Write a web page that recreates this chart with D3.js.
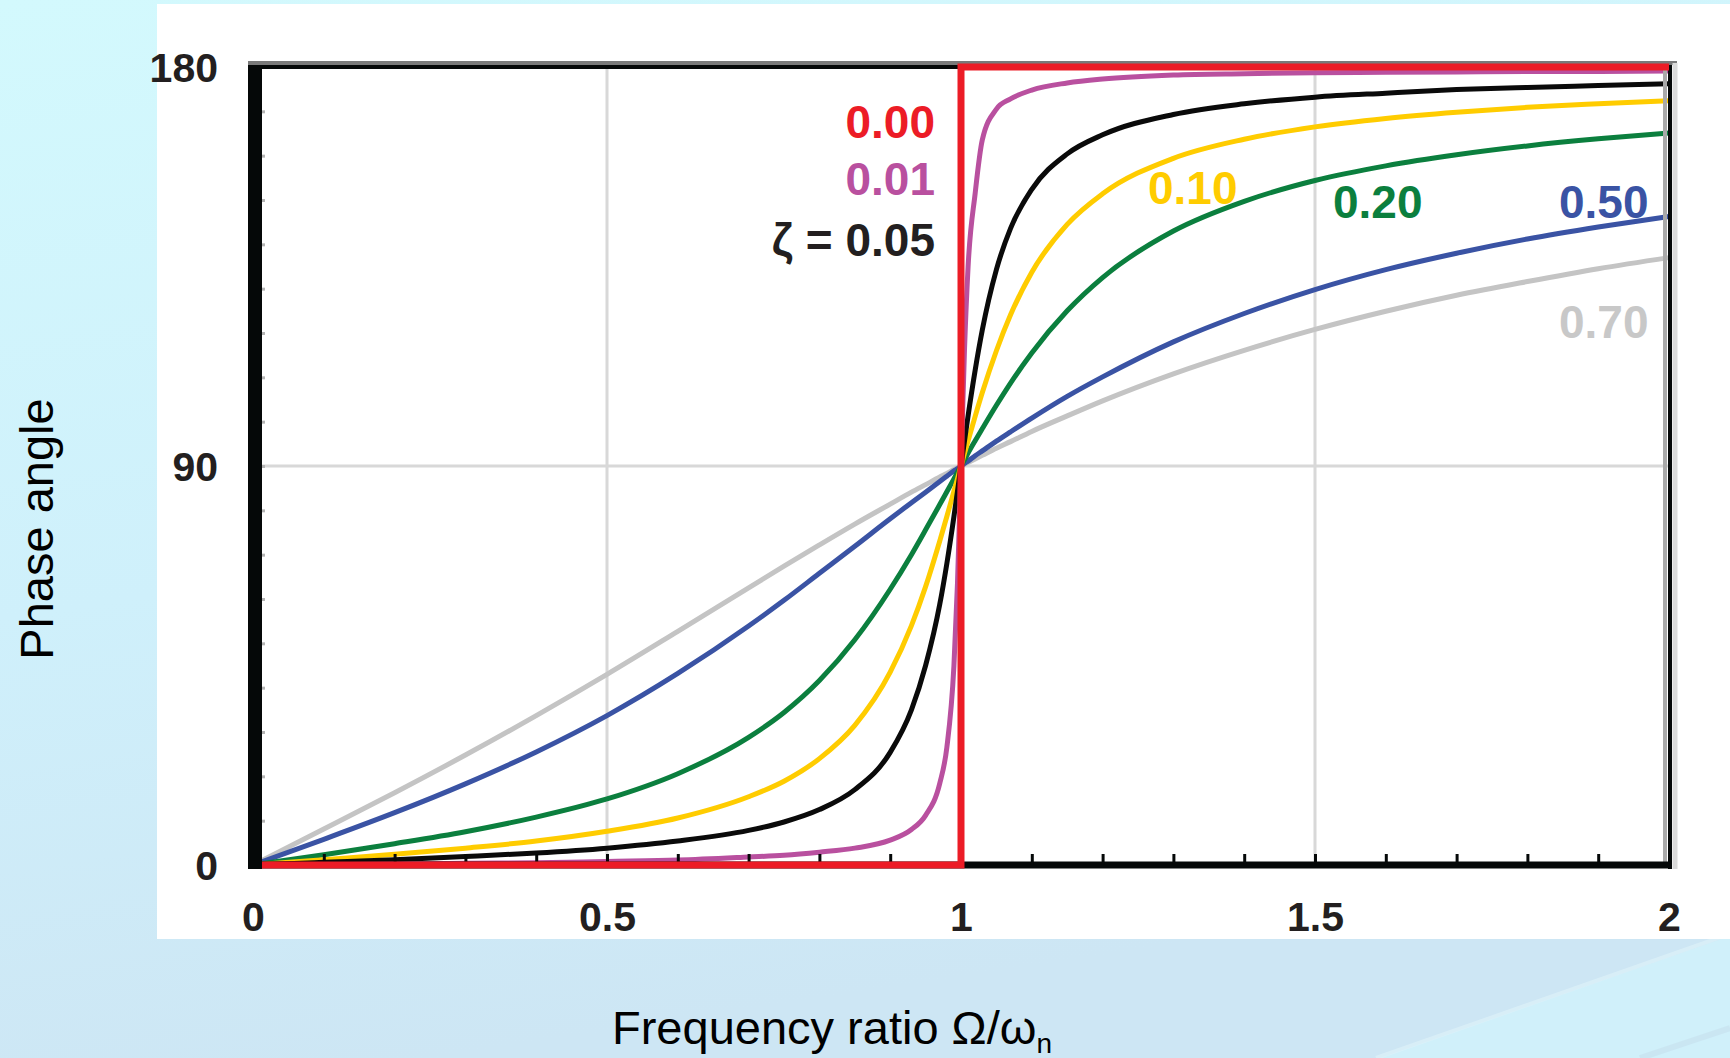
<!DOCTYPE html>
<html>
<head>
<meta charset="utf-8">
<script src="https://cdn.jsdelivr.net/npm/d3@7"></script>
<style>
  html, body { margin: 0; padding: 0; background: #d2f4fb; }
  svg { display: block; }
</style>
</head>
<body>
<svg id="chart" width="1730" height="1058"></svg>
<script>
// Frequency ratio samples shared by every damped curve
const ratio = [0, 0.1, 0.2, 0.3, 0.4, 0.5, 0.6, 0.7, 0.75, 0.8, 0.85, 0.9, 0.93, 0.95, 0.97, 0.98, 0.99, 0.995,
               1, 1.005, 1.01, 1.02, 1.03, 1.05, 1.07, 1.1, 1.15, 1.2, 1.3, 1.4, 1.5, 1.6, 1.7, 1.8, 1.9, 2];

// Phase angle (degrees) for each damping ratio
const phase001 = [0, 0.1, 0.2, 0.4, 0.5, 0.8, 1.1, 1.8, 2.2, 2.9, 3.8, 5.6, 8.0, 11.2, 18.4, 26.5, 44.9, 63.4,
                  90, 116.5, 134.9, 151.5, 163.5, 170.5, 172.8, 174.8, 176.4, 177.3, 178.2, 178.5, 178.7, 178.8, 178.9, 179.0, 179.0, 179.1];
const phase005 = [0, 0.6, 1.2, 1.9, 2.7, 3.8, 5.4, 7.8, 9.7, 12.5, 17.0, 25.4, 35.0, 45.0, 58.8, 68.0, 78.6, 84.3,
                  90, 95.7, 101.3, 111.6, 120.6, 134.3, 143.6, 152.4, 160.4, 164.7, 169.3, 171.7, 173.2, 174.1, 174.9, 175.4, 175.8, 176.2];
const phase010 = [0, 1.2, 2.4, 3.8, 5.4, 7.6, 10.6, 15.4, 18.9, 24.0, 31.5, 43.5, 54.0, 62.8, 73.1, 78.6, 84.3, 87.1,
                  90, 92.9, 95.7, 101.2, 106.5, 116.0, 124.1, 133.7, 144.5, 151.4, 159.4, 163.7, 166.5, 168.4, 169.8, 170.9, 171.7, 172.4];
const phase020 = [0, 2.3, 4.8, 7.5, 10.8, 14.9, 20.6, 28.8, 34.4, 41.6, 50.8, 62.2, 70.0, 75.6, 81.3, 84.2, 87.1, 88.6,
                  90, 91.4, 92.9, 95.7, 98.4, 103.7, 108.7, 115.5, 125.0, 132.5, 143.0, 149.7, 154.4, 157.7, 160.2, 162.2, 163.8, 165.1];
const phase050 = [0, 5.8, 11.8, 18.3, 25.5, 33.7, 43.2, 53.9, 59.7, 65.8, 71.9, 78.1, 81.7, 84.1, 86.5, 87.7, 88.9, 89.4,
                  90, 90.6, 91.1, 92.3, 93.4, 95.6, 97.7, 100.8, 105.7, 110.1, 118.0, 124.4, 129.8, 134.3, 138.0, 141.2, 143.9, 146.3];
const phase070 = [0, 8.1, 16.3, 24.8, 33.7, 43.0, 52.7, 62.5, 67.4, 72.2, 76.9, 81.4, 84.1, 85.8, 87.5, 88.3, 89.2, 89.6,
                  90, 90.4, 90.8, 91.6, 92.4, 94.0, 95.5, 97.8, 101.3, 104.7, 110.8, 116.1, 120.8, 124.9, 128.5, 131.6, 134.5, 137.0];

// Undamped response: a step at resonance
const undampedRatio = [0, 1, 1, 2];
const undampedPhase = [0, 0, 180, 180];

// Axis ticks and curve labels
const xTicks = [0, 0.5, 1, 1.5, 2];
const yTicks = [0, 90, 180];
const dampingLabels = ["0.00", "0.01", "ζ = 0.05", "0.10", "0.20", "0.50", "0.70"];

const svg = d3.select("#chart");
const W = 1730, H = 1058;
const defs = svg.append("defs");

// ---- page background ----
const bg = defs.append("linearGradient").attr("id", "bg")
  .attr("x1", 0).attr("y1", 0).attr("x2", 0.25).attr("y2", 1);
bg.append("stop").attr("offset", 0).attr("stop-color", "#d3f9fd");
bg.append("stop").attr("offset", 0.55).attr("stop-color", "#cff0fb");
bg.append("stop").attr("offset", 1).attr("stop-color", "#cde6f4");
svg.append("rect").attr("width", W).attr("height", H).attr("fill", "url(#bg)");

// soft diagonal sheen in the lower right corner
svg.append("path").attr("d", "M1380,1058 L1730,936 L1730,1058 Z").attr("fill", "#d1f3fb").attr("opacity", 0.8);
svg.append("path").attr("d", "M1376,1058 L1730,934").attr("stroke", "#e0f4fa").attr("stroke-width", 4).attr("opacity", 0.6);
svg.append("path").attr("d", "M1640,1058 L1730,1028").attr("stroke", "#c9e4f1").attr("stroke-width", 6).attr("opacity", 0.8);

// white chart panel
svg.append("rect").attr("x", 157).attr("y", 4).attr("width", W - 157).attr("height", 935).attr("fill", "#ffffff");

// ---- scales ----
const x = d3.scaleLinear().domain([0, 2]).range([253, 1669]);
const y = d3.scaleLinear().domain([0, 180]).range([865, 67]);

// ---- grid ----
const grid = svg.append("g").attr("stroke", "#d8d8d8").attr("stroke-width", 3);
[0.5, 1, 1.5].forEach(v => {
  grid.append("line").attr("x1", x(v)).attr("x2", x(v)).attr("y1", y(180)).attr("y2", y(0));
});
grid.append("line").attr("x1", x(0)).attr("x2", x(2)).attr("y1", y(90)).attr("y2", y(90));

// minor ticks on the left axis (every 10 degrees)
const leftMinor = svg.append("g").attr("transform", `translate(${x(0)},0)`)
  .call(d3.axisLeft(y).tickValues(d3.range(10, 180, 10)).tickSize(-12).tickFormat(""));
leftMinor.select(".domain").remove();
leftMinor.selectAll(".tick line").attr("stroke", "#b4b4b4").attr("stroke-width", 3);

// ---- damped curves ----
const series = [
  { phase: phase070, color: "#c4c4c4" },
  { phase: phase050, color: "#3a53a4" },
  { phase: phase020, color: "#0b7f3e" },
  { phase: phase010, color: "#ffcc00" },
  { phase: phase005, color: "#0a0a0a" },
  { phase: phase001, color: "#b9509f" }
];
const line = d3.line()
  .x((d, i) => x(ratio[i]))
  .y(d => y(d))
  .curve(d3.curveMonotoneX);
svg.append("g").selectAll("path").data(series).join("path")
  .attr("d", d => line(d.phase))
  .attr("fill", "none")
  .attr("stroke", d => d.color)
  .attr("stroke-width", 5)
  .attr("stroke-linejoin", "round");

// ---- frame ----
const frame = svg.append("g");
frame.append("line").attr("x1", 248).attr("x2", x(2) + 8).attr("y1", y(180) - 4).attr("y2", y(180) - 4)
  .attr("stroke", "#7a7a7a").attr("stroke-width", 4);
frame.append("line").attr("x1", 248).attr("x2", x(2) + 3).attr("y1", y(180)).attr("y2", y(180))
  .attr("stroke", "#050808").attr("stroke-width", 4);
frame.append("line").attr("x1", x(2) - 4).attr("x2", x(2) - 4).attr("y1", y(180) + 2).attr("y2", y(0) - 3)
  .attr("stroke", "#a9a9a9").attr("stroke-width", 4);
frame.append("line").attr("x1", x(2) + 6).attr("x2", x(2) + 6).attr("y1", y(180) - 4).attr("y2", y(0) + 4)
  .attr("stroke", "#dadada").attr("stroke-width", 5);
frame.append("line").attr("x1", x(2) + 1).attr("x2", x(2) + 1).attr("y1", y(180) - 2).attr("y2", y(0) + 4)
  .attr("stroke", "#050808").attr("stroke-width", 4);
frame.append("line").attr("x1", 248).attr("x2", x(2) + 3).attr("y1", y(0)).attr("y2", y(0))
  .attr("stroke", "#050808").attr("stroke-width", 7);

// minor ticks on the bottom axis (every 0.1)
const bottomMinor = svg.append("g").attr("transform", `translate(0,${y(0)})`)
  .call(d3.axisBottom(x).tickValues(d3.range(1, 20).map(k => k / 10)).tickSize(-11).tickFormat(""));
bottomMinor.select(".domain").remove();
bottomMinor.selectAll(".tick line").attr("stroke", "#050808").attr("stroke-width", 3);

// ---- undamped step ----
const stepLine = d3.line()
  .x((d, i) => x(undampedRatio[i]))
  .y(d => y(d));
svg.append("path").attr("d", stepLine(undampedPhase))
  .attr("fill", "none").attr("stroke", "#ec1c26").attr("stroke-width", 7)
  .attr("stroke-linejoin", "miter");

// thick left axis bar
svg.append("line").attr("x1", 255).attr("x2", 255).attr("y1", y(180) - 2).attr("y2", y(0) + 4)
  .attr("stroke", "#050808").attr("stroke-width", 14);

// ---- tick labels ----
const tickFont = "'Liberation Sans', Arial, sans-serif";
const xAxis = svg.append("g").attr("transform", `translate(0,${y(0)})`)
  .call(d3.axisBottom(x).tickValues(xTicks).tickSize(0).tickPadding(37).tickFormat(d => String(d)));
xAxis.select(".domain").remove();
xAxis.selectAll("text").attr("font-family", tickFont).attr("font-size", 41).attr("font-weight", "bold")
  .attr("fill", "#231f20");

const yAxis = svg.append("g").attr("transform", `translate(${x(0)},0)`)
  .call(d3.axisLeft(y).tickValues(yTicks).tickSize(0).tickPadding(35).tickFormat(d => String(d)));
yAxis.select(".domain").remove();
yAxis.selectAll("text").attr("font-family", tickFont).attr("font-size", 41).attr("font-weight", "bold")
  .attr("fill", "#231f20").attr("dy", "0.36em");

// ---- curve labels ----
const labelPlaces = [
  { x: 935,  y: 138, anchor: "end",   color: "#ec1c26" },
  { x: 935,  y: 195, anchor: "end",   color: "#b9509f" },
  { x: 935,  y: 256, anchor: "end",   color: "#231f20" },
  { x: 1148, y: 204, anchor: "start", color: "#ffcc00" },
  { x: 1333, y: 218, anchor: "start", color: "#0b7f3e" },
  { x: 1559, y: 218, anchor: "start", color: "#3a53a4" },
  { x: 1559, y: 338, anchor: "start", color: "#c8c8c8" }
];
svg.append("g").selectAll("text").data(dampingLabels).join("text")
  .attr("x", (d, i) => labelPlaces[i].x)
  .attr("y", (d, i) => labelPlaces[i].y)
  .attr("text-anchor", (d, i) => labelPlaces[i].anchor)
  .attr("fill", (d, i) => labelPlaces[i].color)
  .attr("font-family", tickFont)
  .attr("font-size", 46)
  .attr("font-weight", "bold")
  .text(d => d);

// ---- axis titles ----
svg.append("text")
  .attr("transform", "translate(53,529) rotate(-90)")
  .attr("text-anchor", "middle")
  .attr("font-family", tickFont)
  .attr("font-size", 47)
  .attr("fill", "#000")
  .text("Phase angle");

const xTitle = svg.append("text")
  .attr("x", 612).attr("y", 1044)
  .attr("font-family", tickFont)
  .attr("font-size", 47)
  .attr("fill", "#000");
xTitle.append("tspan").text("Frequency ratio Ω/ω");
xTitle.append("tspan").attr("font-size", 28).attr("dy", 9).text("n");
</script>
</body>
</html>
